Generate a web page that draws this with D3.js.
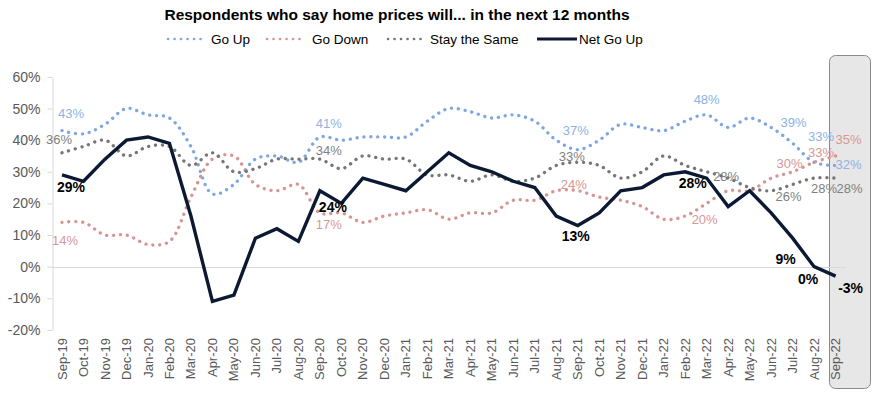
<!DOCTYPE html>
<html>
<head>
<meta charset="utf-8">
<script src="https://cdn.jsdelivr.net/npm/d3@7"></script>
<style>
  html, body { margin: 0; padding: 0; background: #fff; }
  svg { display: block; font-family: "Liberation Sans", Arial, sans-serif; }
</style>
</head>
<body>
<svg id="chart" width="876" height="396"></svg>
<script>
const months = ["Sep-19","Oct-19","Nov-19","Dec-19","Jan-20","Feb-20","Mar-20","Apr-20","May-20","Jun-20","Jul-20","Aug-20",
  "Sep-20","Oct-20","Nov-20","Dec-20","Jan-21","Feb-21","Mar-21","Apr-21","May-21","Jun-21","Jul-21","Aug-21",
  "Sep-21","Oct-21","Nov-21","Dec-21","Jan-22","Feb-22","Mar-22","Apr-22","May-22","Jun-22","Jul-22","Aug-22","Sep-22"];
const goUp   = [43,42,45,50,48,47,38,23,26,34,35,33,41,40,41,41,41,46,50,49,47,48,46,40,37,40,45,44,43,46,48,44,47,44,39,33,32];
const goDown = [14,14,10,10,7,8,22,34,35,26,24,26,17,17,14,16,17,18,15,17,17,21,21,24,24,22,21,19,15,16,20,24,24,28,30,33,35];
const stay   = [36,38,40,35,38,38,32,36,30,31,34,34,34,31,35,34,34,29,29,27,29,27,28,32,33,32,28,30,35,32,30,28,25,24,26,28,28];
const netUp  = [29,27,34,40,41,39,16,-11,-9,9,12,8,24,20,28,26,24,30,36,32,30,27,25,16,13,17,24,25,29,30,28,19,24,17,9,0,-3];
const yTicks = [-20,-10,0,10,20,30,40,50,60];
const seriesNames = ["Go Up","Go Down","Stay the Same","Net Go Up"];
const title = "Respondents who say home prices will... in the next 12 months";

// which points carry a data label, with label offsets (layout only)
const labelSpec = {
  "Go Up":        [[0,9,-17],[12,9,-14],[24,-2,-19],[30,0,-15],[34,1,-21],[35,7,-26],[36,13,-1]],
  "Go Down":      [[0,3,18],[12,9,12],[24,-4,-6],[30,-2,16],[34,-3,-8],[35,7,-10],[36,13,-17]],
  "Stay the Same":[[0,-3,-13],[12,9,-9],[24,-6,-6],[31,-2,-2],[34,-4,12],[35,10,10],[36,14,10]],
  "Net Go Up":    [[0,9,12],[12,13,16],[24,-2,11],[30,-14,5],[34,-7,21],[35,-6,12.5],[36,15,12]]
};

const svg = d3.select("#chart");
const x = d3.scalePoint().domain(months).range([62, 835.6]);
const y = d3.scaleLinear().domain([-20, 60]).range([329.9, 76.9]);

const styles = {
  "Go Up":        {values: goUp,   color: "#7ea7e2", text: "#8db3e2", dotted: true},
  "Go Down":      {values: goDown, color: "#d49593", text: "#d99694", dotted: true},
  "Stay the Same":{values: stay,   color: "#767676", text: "#7f7f7f", dotted: true},
  "Net Go Up":    {values: netUp,  color: "#0c1932", text: "#000000", dotted: false}
};

// highlight box for last month
svg.append("rect")
  .attr("x", 829.5).attr("y", 55.5).attr("width", 41).attr("height", 333)
  .attr("rx", 6).attr("fill", "#e7e7e7").attr("stroke", "#8a8a8a").attr("stroke-width", 1);

// zero gridline
svg.append("line")
  .attr("x1", 52).attr("x2", 846)
  .attr("y1", Math.round(y(0)) + 0.5).attr("y2", Math.round(y(0)) + 0.5)
  .attr("stroke", "#d9d9d9").attr("stroke-width", 1.2);

// y axis
const yAxis = svg.append("g").attr("transform", "translate(52.5,0)")
  .call(d3.axisLeft(y).tickValues(yTicks).tickFormat(d => d + "%").tickSize(5).tickSizeOuter(0).tickPadding(7));
yAxis.select(".domain").attr("stroke", "#d9d9d9");
yAxis.selectAll(".tick line").attr("stroke", "#d9d9d9");
yAxis.selectAll(".tick text").attr("fill", "#595959").style("font-size", "14px")
  .style("font-family", "'Liberation Sans', Arial, sans-serif");

// x labels
svg.append("g").selectAll("text").data(months).join("text")
  .attr("transform", d => `translate(${x(d)},338) rotate(-90)`)
  .attr("text-anchor", "end").attr("dy", "0.35em")
  .attr("fill", "#595959").style("font-size", "13px")
  .text(d => d);

// lines
seriesNames.forEach(name => {
  const s = styles[name];
  const line = d3.line()
    .x((d, i) => x(months[i]))
    .y(d => y(d))
    .curve(s.dotted ? d3.curveCatmullRom.alpha(0.5) : d3.curveLinear);
  const p = svg.append("path").datum(s.values)
    .attr("d", line).attr("fill", "none").attr("stroke", s.color);
  if (s.dotted) {
    p.attr("stroke-width", 3.3).attr("stroke-linecap", "round").attr("stroke-dasharray", "0.1 6.8");
  } else {
    p.attr("stroke-width", 3.4).attr("stroke-linejoin", "miter");
  }
});

// data labels
seriesNames.forEach(name => {
  const s = styles[name];
  svg.append("g").selectAll("text").data(labelSpec[name]).join("text")
    .attr("x", d => x(months[d[0]]) + d[1])
    .attr("y", d => y(s.values[d[0]]) + d[2])
    .attr("text-anchor", "middle").attr("dy", "0.35em")
    .attr("fill", s.text)
    .style("font-size", s.dotted ? "13px" : "14px")
    .style("font-weight", s.dotted ? "normal" : "bold")
    .text(d => s.values[d[0]] + "%");
});

// title
svg.append("text").attr("x", 397).attr("y", 20).attr("text-anchor", "middle")
  .style("font-size", "15.5px").style("font-weight", "bold").attr("fill", "#000")
  .text(title);

// legend
const legendPos = [
  {name: "Go Up", x0: 168, x1: 202, tx: 211},
  {name: "Go Down", x0: 267, x1: 300, tx: 312},
  {name: "Stay the Same", x0: 388, x1: 423, tx: 430},
  {name: "Net Go Up", x0: 537, x1: 577, tx: 579}
];
const lg = svg.append("g");
legendPos.forEach(l => {
  const s = styles[l.name];
  const ln = lg.append("line").attr("x1", l.x0).attr("x2", l.x1).attr("y1", 39).attr("y2", 39)
    .attr("stroke", s.color).attr("stroke-width", s.dotted ? 2.6 : 3.2);
  if (s.dotted) ln.attr("stroke-linecap", "round").attr("stroke-dasharray", "0.1 6.4");
  lg.append("text").attr("x", l.tx).attr("y", 39).attr("dy", "0.35em")
    .style("font-size", "13.5px").attr("fill", "#000").text(l.name);
});
</script>
</body>
</html>
